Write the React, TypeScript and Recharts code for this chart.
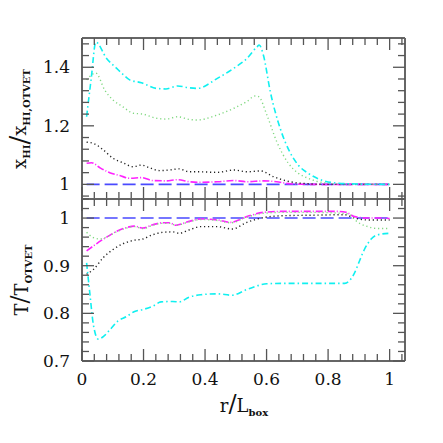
import { Line, LineChart, XAxis, YAxis } from "recharts";

// r / L_box positions and ratios
const topCyanR = [0.015, 0.03, 0.045, 0.08, 0.112, 0.133, 0.155, 0.193, 0.209, 0.241, 0.273, 0.311, 0.348, 0.375, 0.44, 0.494, 0.536, 0.569, 0.576, 0.59, 0.612, 0.644, 0.676, 0.703, 0.735, 0.778, 0.832, 0.9, 1.0];
const topCyanV = [1.231, 1.362, 1.486, 1.43, 1.397, 1.376, 1.357, 1.347, 1.34, 1.328, 1.326, 1.336, 1.33, 1.328, 1.362, 1.397, 1.43, 1.47, 1.476, 1.44, 1.317, 1.192, 1.11, 1.066, 1.038, 1.015, 1.004, 1.001, 1.0];

const topGreenR = [0.015, 0.045, 0.074, 0.101, 0.133, 0.166, 0.198, 0.241, 0.273, 0.311, 0.348, 0.375, 0.44, 0.494, 0.536, 0.563, 0.574, 0.601, 0.633, 0.671, 0.703, 0.735, 0.778, 0.85, 1.0];
const topGreenV = [1.357, 1.38, 1.322, 1.288, 1.265, 1.243, 1.24, 1.226, 1.223, 1.231, 1.222, 1.22, 1.237, 1.26, 1.283, 1.302, 1.3, 1.237, 1.146, 1.072, 1.038, 1.021, 1.007, 1.001, 1.0];

const topBlackR = [0.015, 0.037, 0.069, 0.101, 0.133, 0.166, 0.193, 0.219, 0.252, 0.284, 0.316, 0.348, 0.375, 0.44, 0.494, 0.536, 0.58, 0.623, 0.676, 0.72, 0.8, 1.0];
const topBlackV = [1.144, 1.14, 1.118, 1.089, 1.074, 1.06, 1.066, 1.057, 1.047, 1.049, 1.053, 1.043, 1.043, 1.041, 1.049, 1.043, 1.046, 1.026, 1.009, 1.003, 1.0, 1.0];

const topMagentaR = [0.015, 0.031, 0.058, 0.09, 0.123, 0.155, 0.193, 0.23, 0.273, 0.311, 0.348, 0.375, 0.44, 0.494, 0.536, 0.59, 0.633, 0.676, 0.75, 1.0];
const topMagentaV = [1.072, 1.074, 1.057, 1.04, 1.03, 1.021, 1.023, 1.013, 1.012, 1.016, 1.009, 1.007, 1.009, 1.013, 1.009, 1.012, 1.009, 1.002, 1.0, 1.0];

const blueR = [0.015, 1.0];
const blueV = [1.0, 1.0];

const botMagentaR = [0.015, 0.047, 0.08, 0.112, 0.144, 0.171, 0.198, 0.23, 0.262, 0.284, 0.305, 0.348, 0.386, 0.44, 0.483, 0.536, 0.59, 0.655, 0.75, 0.832, 0.859, 0.886, 0.929, 0.972, 1.0];
const botMagentaV = [0.931, 0.946, 0.96, 0.972, 0.98, 0.983, 0.979, 0.986, 0.99, 0.99, 0.985, 0.993, 0.998, 0.996, 0.991, 1.003, 1.012, 1.014, 1.014, 1.014, 1.012, 1.003, 1.0, 1.0, 0.999];

const botGreenR = [0.015, 0.037, 0.058, 0.08, 0.112, 0.144, 0.171, 0.198, 0.23, 0.262, 0.284, 0.305, 0.348, 0.386, 0.44, 0.483, 0.536, 0.59, 0.655, 0.75, 0.864, 0.897, 0.929, 0.961, 1.0];
const botGreenV = [0.97, 0.959, 0.956, 0.96, 0.971, 0.979, 0.982, 0.978, 0.985, 0.989, 0.989, 0.985, 0.992, 0.997, 0.995, 0.99, 1.002, 1.01, 1.012, 1.012, 1.009, 0.991, 0.982, 0.978, 0.978];

const botBlackR = [0.015, 0.037, 0.069, 0.101, 0.133, 0.166, 0.198, 0.23, 0.262, 0.295, 0.316, 0.348, 0.386, 0.44, 0.488, 0.536, 0.59, 0.655, 0.75, 0.853, 0.886, 0.929, 1.0];
const botBlackV = [0.882, 0.892, 0.917, 0.934, 0.946, 0.953, 0.956, 0.965, 0.97, 0.971, 0.968, 0.975, 0.982, 0.982, 0.977, 0.991, 1.001, 1.005, 1.006, 1.007, 1.0, 0.996, 0.996];

const botCyanR = [0.015, 0.026, 0.037, 0.053, 0.069, 0.09, 0.117, 0.144, 0.171, 0.198, 0.23, 0.257, 0.295, 0.316, 0.348, 0.386, 0.44, 0.488, 0.536, 0.601, 0.655, 0.75, 0.854, 0.87, 0.886, 0.902, 0.918, 0.94, 0.961, 1.0];
const botCyanV = [0.906, 0.839, 0.776, 0.746, 0.751, 0.765, 0.784, 0.793, 0.804, 0.808, 0.815, 0.824, 0.825, 0.824, 0.834, 0.839, 0.841, 0.838, 0.85, 0.862, 0.863, 0.863, 0.863, 0.869, 0.885, 0.91, 0.934, 0.956, 0.965, 0.968];

// ticks
const xTicks = [0, 0.04, 0.08, 0.12, 0.16, 0.2, 0.24, 0.28, 0.32, 0.36, 0.4, 0.44, 0.48, 0.52, 0.56, 0.6, 0.64, 0.68, 0.72, 0.76, 0.8, 0.84, 0.88, 0.92, 0.96, 1.0, 1.04];
const xMajor = [0, 0.2, 0.4, 0.6, 0.8, 1];
const topTicks = [0.96, 1.0, 1.04, 1.08, 1.12, 1.16, 1.2, 1.24, 1.28, 1.32, 1.36, 1.4, 1.44, 1.48];
const topMajor = [1, 1.2, 1.4];
const botTicks = [0.7, 0.72, 0.74, 0.76, 0.78, 0.8, 0.82, 0.84, 0.86, 0.88, 0.9, 0.92, 0.94, 0.96, 0.98, 1.0, 1.02, 1.04];
const botMajor = [0.7, 0.8, 0.9, 1];

const zip = (r: number[], v: number[]) => r.map((x, i) => ({ r: x, v: v[i] }));

const FRAME = "#666";
const TICK = "#555";
const FONT = "'DejaVu Serif', 'Liberation Serif', serif";
const isIn = (list: number[], v: number) => list.some((m) => Math.abs(m - v) < 1e-6);
const fmt = (v: number) => String(Math.round(v * 100) / 100);

// tick factory: draws an inward tick mark and optionally the label
function makeTick(side: "bottom" | "top" | "left" | "right", major: number[], withLabel: boolean) {
  return (props: any) => {
    const { x, y, payload } = props;
    const big = isIn(major, payload.value);
    const len = big ? 12 : 7;
    let line;
    if (side === "bottom") line = <line x1={x} x2={x} y1={y} y2={y - len} />;
    else if (side === "top") line = <line x1={x} x2={x} y1={y} y2={y + len} />;
    else if (side === "left") line = <line x1={x} x2={x + len} y1={y} y2={y} />;
    else line = <line x1={x} x2={x - len} y1={y} y2={y} />;
    return (
      <g>
        <g stroke={TICK} strokeWidth={1.3}>{line}</g>
        {withLabel && big && side === "left" && (
          <text x={x - 12} y={y} dy={6} textAnchor="end" fontFamily={FONT} fontSize={17} fill="#111">
            {fmt(payload.value)}
          </text>
        )}
        {withLabel && big && side === "bottom" && (
          <text x={x} y={y + 24} textAnchor="middle" fontFamily={FONT} fontSize={17} fill="#111">
            {fmt(payload.value)}
          </text>
        )}
      </g>
    );
  };
}

const axisCommon = {
  type: "number" as const,
  allowDataOverflow: true,
  tickSize: 0,
  tickMargin: 0,
  tickLine: false,
  interval: 0 as const,
  axisLine: { stroke: FRAME, strokeWidth: 2 },
};

const series = [
  { key: "blue", color: "#4a4aff", dash: "13 5", width: 1.6 },
  { key: "magenta", color: "#ff22ff", dash: "7 2 1 2", width: 1.6 },
  { key: "black", color: "#222", dash: "1.2 2.8", width: 1.4 },
  { key: "green", color: "#80d880", dash: "1.2 2.8", width: 1.4 },
  { key: "cyan", color: "#10f0f0", dash: "6 3 1.5 3", width: 1.6 },
];

function Panel({ top, height, bottomAxis, topAxis, yDomain, yTicks, yMajor, data, xLabels }: any) {
  return (
    <div style={{ position: "absolute", left: 0, top }}>
      <LineChart width={443} height={height} margin={{ top: 0, right: 0, bottom: 0, left: 0 }}>
        <XAxis xAxisId="b" orientation="bottom" dataKey="r" domain={[0, 1.05]} ticks={xTicks} height={bottomAxis} tick={makeTick("bottom", xMajor, xLabels)} {...axisCommon} />
        <XAxis xAxisId="t" orientation="top" dataKey="r" domain={[0, 1.05]} ticks={xTicks} height={topAxis} tick={makeTick("top", xMajor, false)} {...axisCommon} />
        <YAxis yAxisId="l" orientation="left" width={82} domain={yDomain} ticks={yTicks} tick={makeTick("left", yMajor, true)} {...axisCommon} />
        <YAxis yAxisId="r" orientation="right" width={38} domain={yDomain} ticks={yTicks} tick={makeTick("right", yMajor, false)} {...axisCommon} />
        {series.map((s) => (
          <Line
            key={s.key}
            xAxisId="b"
            yAxisId="l"
            data={data[s.key]}
            dataKey="v"
            type="monotone"
            stroke={s.color}
            strokeWidth={s.width}
            strokeDasharray={s.dash}
            dot={false}
            activeDot={false}
            isAnimationActive={false}
          />
        ))}
      </LineChart>
    </div>
  );
}

export default function App() {
  const topData = {
    blue: zip(blueR, blueV),
    magenta: zip(topMagentaR, topMagentaV),
    black: zip(topBlackR, topBlackV),
    green: zip(topGreenR, topGreenV),
    cyan: zip(topCyanR, topCyanV),
  };
  const botData = {
    blue: zip(blueR, blueV),
    magenta: zip(botMagentaR, botMagentaV),
    black: zip(botBlackR, botBlackV),
    green: zip(botGreenR, botGreenV),
    cyan: zip(botCyanR, botCyanV),
  };
  return (
    <div style={{ position: "absolute", left: 0, top: 0, width: 443, height: 443, background: "#fff" }}>
      <Panel top={0} height={200} bottomAxis={1} topAxis={38} yDomain={[0.95, 1.5]} yTicks={topTicks} yMajor={topMajor} data={topData} xLabels={false} />
      <Panel top={198} height={245} bottomAxis={82} topAxis={1} yDomain={[0.7, 1.04]} yTicks={botTicks} yMajor={botMajor} data={botData} xLabels={true} />
      <svg width={443} height={443} style={{ position: "absolute", left: 0, top: 0, pointerEvents: "none" }}>
        <g fontFamily={FONT} fill="#111">
          <text transform="translate(26,119) rotate(-90)" textAnchor="middle" fontSize={18}>
            x<tspan fontSize={10} fontWeight="bold" dy={4}>HI</tspan>
            <tspan fontSize={26} dy={-2}>/</tspan>
            <tspan dy={-2}>x</tspan><tspan fontSize={10} fontWeight="bold" dy={4}>HI,OTVET</tspan>
          </text>
          <text transform="translate(28,280) rotate(-90)" textAnchor="middle" fontSize={18}>
            T<tspan fontSize={24}>/</tspan>T<tspan fontSize={10} fontWeight="bold" dy={4}>OTVET</tspan>
          </text>
          <text x={244} y={412} textAnchor="middle" fontSize={18}>
            r<tspan fontSize={24}>/</tspan>L<tspan fontSize={10} fontWeight="bold" dy={4}>box</tspan>
          </text>
        </g>
      </svg>
    </div>
  );
}
